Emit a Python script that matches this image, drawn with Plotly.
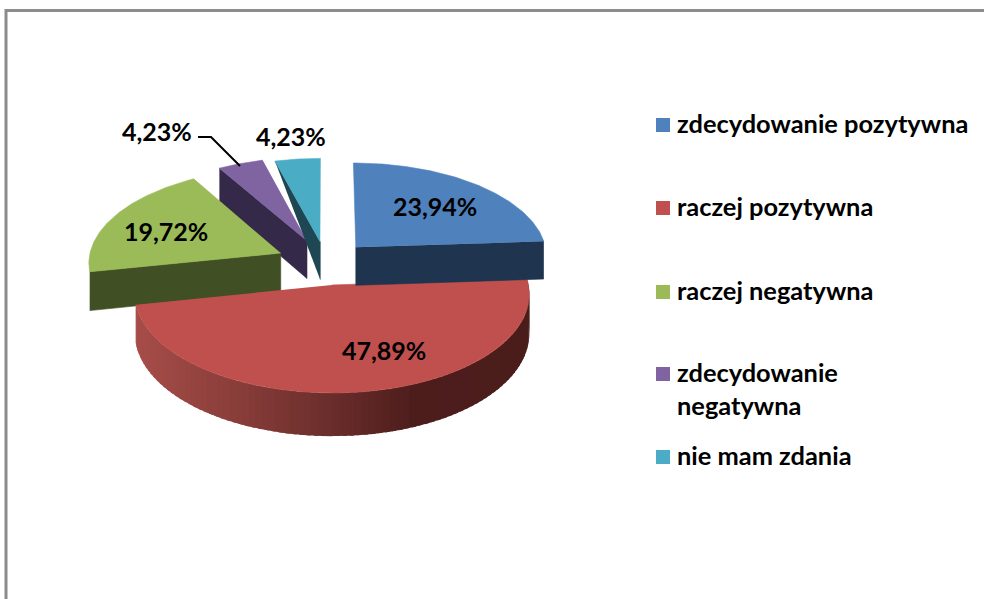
import math
import plotly.graph_objects as go

categories = ["zdecydowanie pozytywna", "raczej pozytywna", "raczej negatywna",
              "zdecydowanie<br>negatywna", "nie mam zdania"]
values = [23.94, 47.89, 19.72, 4.23, 4.23]
top_colors = ["#4F81BD", "#C0504D", "#9BBB59", "#8064A2", "#4BACC6"]
side_colors = ["#1F344F", "#4A1D1B", "#404F24", "#35294A", "#1F4753"]
explode = [0.23, 0.23, 0.26, 0.26, 0.23]

# projection of the tilted pie onto the page
VX, VY, RX, RY, PERSP, DEPTH = 326, 263, 192.5, 94.4, 0.088, 38.5
FONT = "Lato"


def project(theta, radius, dx, dy, down=False):
    X = radius * math.sin(theta) + dx
    Y = radius * math.cos(theta) + dy
    den = 1 + PERSP * Y
    x = VX + RX * X / den
    y = VY - RY * Y / den
    if down:
        y += DEPTH / den
    return x, y


total = sum(values)
slices = []
cum = 0.0
for v, e in zip(values, explode):
    a0 = cum / total * 2 * math.pi
    cum += v
    a1 = cum / total * 2 * math.pi
    mid = (a0 + a1) / 2
    slices.append((a0, a1, e * math.sin(mid), e * math.cos(mid)))


def poly(points, color, name, width=0.6):
    return go.Scatter(x=[p[0] for p in points], y=[p[1] for p in points],
                      mode="lines", fill="toself", fillcolor=color,
                      line=dict(color=color, width=width), name=name,
                      showlegend=False, hoverinfo="skip")


def top_face(i):
    a0, a1, dx, dy = slices[i]
    n = 90
    pts = [project(0, 0, dx, dy)]
    pts += [project(a0 + (a1 - a0) * k / n, 1, dx, dy) for k in range(n + 1)]
    return poly(pts, top_colors[i], categories[i])


def cut_face(i, angle, triangle=False):
    dx, dy = slices[i][2], slices[i][3]
    apex, rim = project(0, 0, dx, dy), project(angle, 1, dx, dy)
    apex_d, rim_d = project(0, 0, dx, dy, True), project(angle, 1, dx, dy, True)
    pts = [rim, apex, apex_d] if triangle else [rim, apex, apex_d, rim_d]
    return poly(pts, side_colors[i], categories[i])


def red_side_color(x):
    stops = [(134, (168, 78, 74)), (220, (142, 64, 60)), (330, (106, 46, 44)),
             (410, (78, 30, 29)), (530, (74, 29, 27))]
    for (x0, c0), (x1, c1) in zip(stops, stops[1:]):
        if x <= x1:
            t = max(0, (x - x0) / (x1 - x0))
            return "rgb(%d,%d,%d)" % tuple(c0[j] + (c1[j] - c0[j]) * t for j in range(3))
    return "rgb(74,29,27)"


traces = []
# back slices first
traces.append(cut_face(3, slices[3][0]))
traces.append(top_face(3))
traces.append(cut_face(4, slices[4][0], triangle=True))
traces.append(top_face(4))
traces.append(cut_face(2, slices[2][0]))
traces.append(top_face(2))

# curved wall of the large slice, shaded strip by strip
a0, a1, dx, dy = slices[1]
steps = 90
for k in range(steps):
    t0 = a0 + (a1 - a0) * k / steps
    t1 = a0 + (a1 - a0) * (k + 1.6) / steps
    p = [project(t0, 1, dx, dy), project(t1, 1, dx, dy),
         project(t1, 1, dx, dy, True), project(t0, 1, dx, dy, True)]
    traces.append(poly(p, red_side_color((p[0][0] + p[1][0]) / 2), categories[1], width=0))
traces.append(top_face(1))

traces.append(cut_face(0, slices[0][1]))
traces.append(top_face(0))

fig = go.Figure(traces)

# legend swatches
legend_y = [125, 208, 292, 374, 457]
legend_text_y = [123, 206, 290, 388, 455]
fig.add_trace(go.Scatter(x=[663] * 5, y=legend_y, mode="markers", showlegend=False,
                         hoverinfo="skip",
                         marker=dict(symbol="square", size=14, color=top_colors, line=dict(width=0))))
for name, y in zip(categories, legend_text_y):
    fig.add_annotation(x=675, y=y, text=name, showarrow=False, xanchor="left", yanchor="middle",
                       align="left", font=dict(family=FONT, size=25.4, color="#000000", weight=700))

# data labels
label_pos = [(435, 206), (384, 350), (166, 231), (157, 131), (291, 136)]
for v, (x, y) in zip(values, label_pos):
    fig.add_annotation(x=x, y=y, text=f"{v:.2f}%".replace(".", ","), showarrow=False,
                       xanchor="center", yanchor="middle",
                       font=dict(family=FONT, size=25, color="#000000", weight=700))

shapes = [
    dict(type="line", x0=6, x1=6, y0=9, y1=599, line=dict(color="#8C8C8C", width=3)),
    dict(type="line", x0=5, x1=984, y0=10.5, y1=10.5, line=dict(color="#8C8C8C", width=3)),
    dict(type="path", path="M 198 137 L 211 137 L 240 166", line=dict(color="#000000", width=2)),
]

fig.update_layout(
    width=984, height=599, margin=dict(l=0, r=0, t=0, b=0),
    paper_bgcolor="#FFFFFF", plot_bgcolor="#FFFFFF", showlegend=False, shapes=shapes,
    xaxis=dict(range=[0, 984], visible=False, fixedrange=True),
    yaxis=dict(range=[599, 0], visible=False, fixedrange=True),
)
fig.write_html("out.html", post_script="document.body.style.margin='0';",
               config={"displayModeBar": False})
